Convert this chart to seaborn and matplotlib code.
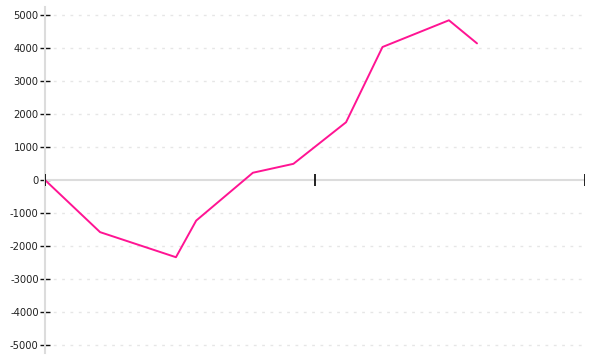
import matplotlib
matplotlib.use("Agg")
import matplotlib.pyplot as plt
import seaborn as sns
import pandas as pd

x_values = [0, 2.04, 4.85, 5.6, 7.7, 9.2, 11.15, 12.5, 14.96, 16.0]
y_values = [0, -1580, -2340, -1230, 220, 490, 1750, 4030, 4840, 4140]
y_ticks = [-5000, -4000, -3000, -2000, -1000, 0, 1000, 2000, 3000, 4000, 5000]
x_ticks = [0, 10, 20]

sns.set_style("white")
plt.rcParams['font.family'] = ['DejaVu Sans']
plt.rcParams['axes.unicode_minus'] = False

df = pd.DataFrame({"x": x_values, "y": y_values})

fig = plt.figure(figsize=(6, 3.6), dpi=100)
ax = fig.add_axes([45/600, (360-353.25)/360, 540/600, 346.5/360])

# gridlines
for v in y_ticks:
    if v == 0:
        continue
    ax.axhline(v, color="#e6e6e6", lw=1, ls=(0, (2, 4)), zorder=0)
ax.axhline(0, color="#dcdcdc", lw=1.5, zorder=1)

sns.lineplot(data=df, x="x", y="y", ax=ax, color="#ff1493", lw=1.4, zorder=3)

ax.set_xlim(0, 20)
ax.set_ylim(-5250, 5250)
ax.set_xlabel("")
ax.set_ylabel("")

for s in ["top", "right", "bottom"]:
    ax.spines[s].set_visible(False)
ax.spines["left"].set_color("#dcdcdc")
ax.spines["left"].set_linewidth(1.5)
ax.spines["left"].set_zorder(4)

ax.set_yticks(y_ticks)
ax.set_yticklabels([str(v) for v in y_ticks])
ax.tick_params(axis="y", direction="inout", length=7, width=1, color="#111111",
               labelsize=7.2, labelcolor="#222222", pad=1, left=True)

ax.set_xticks(x_ticks)
ax.set_xticklabels([])
ax.tick_params(axis="x", bottom=False)
# x ticks placed on zero line
for xv in x_ticks:
    ax.plot([xv, xv], [-180, 180], color="#111111", lw=1.3, zorder=5,
            solid_capstyle="butt")

fig.savefig("out.png", dpi=100)
